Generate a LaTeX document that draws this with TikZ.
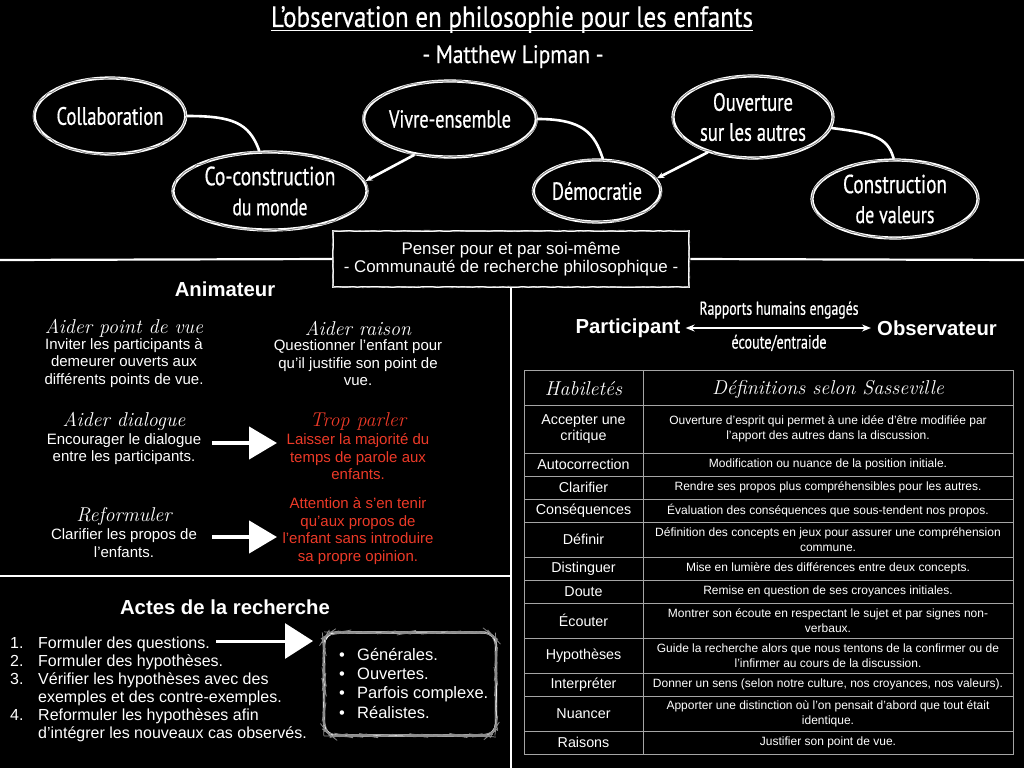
\documentclass[tikz,border=0pt]{standalone}
\usepackage{fontspec}
\usepackage{graphicx}
\setsansfont{Liberation Sans}
\renewcommand{\familydefault}{\sfdefault}
\newfontfamily\handfont[FakeStretch=0.74,FakeBold=0.6]{PT Sans}
\newfontfamily\titlefont[FakeStretch=0.85,FakeBold=0.5]{PT Sans}
\usetikzlibrary{shapes.geometric,arrows.meta,calc,decorations.pathmorphing}
\definecolor{myred}{RGB}{236,58,40}
\definecolor{tgray}{RGB}{165,165,165}
\newcommand{\hwt}[2]{\resizebox{#1}{!}{\handfont #2}}
\newcommand{\twt}[2]{\resizebox{#1}{!}{\titlefont #2}}
\begin{document}
\begin{tikzpicture}[x=1pt,y=-1pt,
 bubble/.style={ellipse, draw=white, line width=3.2pt, text=white, inner sep=0pt, align=center,
   font=\fontsize{20}{30}\selectfont,
   postaction={draw=white!55!black, line width=0.9pt, decorate, decoration={random steps, segment length=5pt, amplitude=0.9pt}}},
 conn/.style={white, line width=2.6pt, line cap=round},
 connarrow/.style={conn, -{Stealth[length=7pt,width=6pt]}},
 body/.style={text=white, inner sep=0pt, align=center, font=\fontsize{15}{17.5}\selectfont},
 redbody/.style={body, text=myred},
 hhead/.style={text=white, inner sep=0pt, font=\rmfamily\itshape\fontsize{20}{22}\selectfont},
 redhead/.style={hhead, text=myred},
 bighead/.style={text=white, inner sep=0pt, font=\bfseries\fontsize{20.3}{22}\selectfont},
 sepline/.style={white, line width=2.2pt},
 chalkarrow/.style={white, line width=4.5pt, -{Triangle[length=28pt,width=32pt]}},
 bigarrow/.style={white, line width=3pt, -{Triangle[length=28pt,width=35pt]}},
 listtext/.style={text=white, inner sep=0pt, anchor=base west, font=\fontsize{16}{18}\selectfont},
 bullettext/.style={text=white, inner sep=0pt, anchor=base west, font=\fontsize{16.5}{18}\selectfont},
 tgrid/.style={draw=tgray, line width=1pt},
 tleft/.style={text=white, inner sep=0pt, align=center, font=\fontsize{14.3}{16}\selectfont},
 tright/.style={text=white, inner sep=0pt, align=center, font=\fontsize{12}{15}\selectfont},
 handlabel/.style={text=white, inner sep=0pt}
]
\useasboundingbox (0,0) rectangle (1024,768);
\fill[black] (0,0) rectangle (1024,768);

% Title
\node[handlabel, anchor=base] (title) at (512,27) {\twt{482pt}{L’observation en philosophie pour les enfants}};
\draw[white, line width=1pt] ([yshift=-3.5pt]title.base west) -- ([yshift=-3.5pt]title.base east);
\node[handlabel, anchor=base] (sub) at (513,63) {\twt{181pt}{- Matthew Lipman -}};

% Bubbles
\node[bubble, minimum width=136pt, minimum height=76pt] (collab) at (110,116) {\hwt{107pt}{Collaboration}};
\node[bubble, minimum width=194pt, minimum height=78pt] (cocon) at (270,191) {\hwt{131pt}{Co-construction}\\\hwt{75pt}{du monde}};
\node[bubble, minimum width=156pt, minimum height=76pt] (vivre) at (450,119) {\hwt{122pt}{Vivre-ensemble}};
\node[bubble, minimum width=124pt, minimum height=62pt] (democ) at (597,191) {\hwt{90pt}{Démocratie}};
\node[bubble, minimum width=160pt, minimum height=82pt] (ouvert) at (753,117) {\hwt{80pt}{Ouverture}\\\hwt{106pt}{sur les autres}};
\node[bubble, minimum width=166pt, minimum height=78pt] (constr) at (895,199) {\hwt{104pt}{Construction}\\\hwt{79pt}{de valeurs}};

% Connectors between bubbles
\draw[conn] (collab.east) .. controls +(45,0) and +(-10,-28) .. (cocon.105);
\draw[connarrow] (vivre.225) -- (cocon.6);
\draw[conn] (vivre.east) .. controls +(45,0) and +(-8,-25) .. (democ.80);
\draw[connarrow] (ouvert.218) -- (democ.12);
\draw[conn] (ouvert.-8) .. controls +(40,5) and +(-6,-22) .. (constr.92);

% Central box
\node[draw=white, line width=2.5pt, minimum width=356pt, minimum height=56pt, inner sep=0pt, text=white, align=center,
  font=\fontsize{16.9}{18.5}\selectfont,
  postaction={draw=white!55!black, line width=0.8pt, decorate, decoration={random steps, segment length=5pt, amplitude=0.8pt}}]
  (penser) at (511,259) {Penser pour et par soi-même\\- Communauté de recherche philosophique -};

% Separators
\coordinate (sl) at (0,260);
\coordinate (sr) at (1024,260);
\coordinate (sb) at (511,768);
\coordinate (hl) at (0,576);
\coordinate (hr) at (511,576);
\draw[sepline] (sl) -- (penser.west);
\draw[sepline] (penser.east) -- (sr);
\draw[sepline] (penser.south) -- (sb);
\draw[sepline] (hl) -- (hr);

% Animateur
\node[bighead] (anim) at (225,289) {Animateur};
\node[hhead] (ptvh) at (124,328) {Aider point de vue};
\node[body] (ptv) at (124,363) {Inviter les participants à\\demeurer ouverts aux\\différents points de vue.};
\node[hhead] (raih) at (358,328) {Aider raison};
\node[body] (rai) at (358,363) {Questionner l’enfant pour\\qu’il justifie son point de\\vue.};
\node[hhead] (diah) at (124,421) {Aider dialogue};
\node[body] (dia) at (124,449) {Encourager le dialogue\\entre les participants.};
\node[redhead] (troph) at (358,421) {Trop parler};
\node[redbody] (trop) at (358,457) {Laisser la majorité du\\temps de parole aux\\enfants.};
\node[hhead] (refh) at (124,516) {Reformuler};
\node[body] (ref) at (124,543) {Clarifier les propos de\\l’enfants.};
\node[redbody] (att) at (358,531) {Attention à s’en tenir\\qu’aux propos de\\l’enfant sans introduire\\sa propre opinion.};
\coordinate (a1s) at (212,443);
\coordinate (a1e) at (277,443);
\coordinate (a2s) at (212,537);
\coordinate (a2e) at (277,537);
\draw[chalkarrow] (a1s) -- (a1e);
\draw[chalkarrow] (a2s) -- (a2e);

% Actes de la recherche
\node[bighead] (actes) at (225,607) {Actes de la recherche};
\node[listtext] (n1) at (10,648) {1.};
\node[listtext] (l1) at (38,648) {Formuler des questions.};
\node[listtext] (n2) at (10,666) {2.};
\node[listtext] (l2) at (38,666) {Formuler des hypothèses.};
\node[listtext] (n3) at (10,684) {3.};
\node[listtext] (l3) at (38,684) {Vérifier les hypothèses avec des};
\node[listtext] (l3b) at (38,702) {exemples et des contre-exemples.};
\node[listtext] (n4) at (10,720) {4.};
\node[listtext] (l4) at (38,720) {Reformuler les hypothèses afin};
\node[listtext] (l4b) at (38,738) {d’intégrer les nouveaux cas observés.};

\node[draw=white, line width=2.2pt, rounded corners=12pt, minimum width=172pt, minimum height=103pt,
  postaction={draw=white!55!black, line width=0.7pt, decorate, decoration={random steps, segment length=5pt, amplitude=0.7pt}}]
  (qbox) at (410,684) {};
\node[bullettext] (b1) at (339,660) {•};
\node[bullettext] (g1) at (357,660) {Générales.};
\node[bullettext] (b2) at (339,679) {•};
\node[bullettext] (g2) at (357,679) {Ouvertes.};
\node[bullettext] (b3) at (339,698) {•};
\node[bullettext] (g3) at (357,698) {Parfois complexe.};
\node[bullettext] (b4) at (339,718) {•};
\node[bullettext] (g4) at (357,718) {Réalistes.};
\coordinate (a3s) at (216,641);
\coordinate (a3e) at (313,641);
\draw[bigarrow] (a3s) -- (a3e);

% Participant / Observateur
\node[bighead] (part) at (628,328) {Participant};
\node[bighead] (obs) at (937,328) {Observateur};
\draw[white, line width=1.5pt, {Stealth[length=9pt,width=7pt]}-{Stealth[length=9pt,width=7pt]}, shorten <=5pt, shorten >=6pt] (part.east) -- (obs.west);
\node[handlabel] (rap) at (779,310) {\hwt{159pt}{Rapports humains engagés}};
\node[handlabel] (eco) at (779,343) {\hwt{95pt}{écoute/entraide}};

% Table
\draw[tgrid] (524,370) rectangle (1013,754);
\draw[tgrid] (643,370) -- (643,754);
\foreach \yy in {405,453,476,499,522,557,580,603,638,673,696,731} \draw[tgrid] (524,\yy) -- (1013,\yy);
\node[hhead] (hab) at (583.5,389) {Habiletés};
\node[hhead] (def) at (828,389) {Définitions selon Sasseville};
\node[tleft] (r1a) at (583.5,429) {Accepter une\\critique};
\node[tright] (r1b) at (828,429) {Ouverture d’esprit qui permet à une idée d’être modifiée par\\l’apport des autres dans la discussion.};
\node[tleft] (r2a) at (583.5,464.5) {Autocorrection};
\node[tright] (r2b) at (828,464.5) {Modification ou nuance de la position initiale.};
\node[tleft] (r3a) at (583.5,487.5) {Clarifier};
\node[tright] (r3b) at (828,487.5) {Rendre ses propos plus compréhensibles pour les autres.};
\node[tleft] (r4a) at (583.5,510.5) {Conséquences};
\node[tright] (r4b) at (828,510.5) {Évaluation des conséquences que sous-tendent nos propos.};
\node[tleft] (r5a) at (583.5,539.5) {Définir};
\node[tright] (r5b) at (828,539.5) {Définition des concepts en jeux pour assurer une compréhension\\commune.};
\node[tleft] (r6a) at (583.5,568.5) {Distinguer};
\node[tright] (r6b) at (828,568.5) {Mise en lumière des différences entre deux concepts.};
\node[tleft] (r7a) at (583.5,591.5) {Doute};
\node[tright] (r7b) at (828,591.5) {Remise en question de ses croyances initiales.};
\node[tleft] (r8a) at (583.5,620.5) {Écouter};
\node[tright] (r8b) at (828,620.5) {Montrer son écoute en respectant le sujet et par signes non-\\verbaux.};
\node[tleft] (r9a) at (583.5,655.5) {Hypothèses};
\node[tright] (r9b) at (828,655.5) {Guide la recherche alors que nous tentons de la confirmer ou de\\l’infirmer au cours de la discussion.};
\node[tleft] (r10a) at (583.5,684.5) {Interpréter};
\node[tright] (r10b) at (828,684.5) {Donner un sens (selon notre culture, nos croyances, nos valeurs).};
\node[tleft] (r11a) at (583.5,713.5) {Nuancer};
\node[tright] (r11b) at (828,713.5) {Apporter une distinction où l’on pensait d’abord que tout était\\identique.};
\node[tleft] (r12a) at (583.5,742.5) {Raisons};
\node[tright] (r12b) at (828,742.5) {Justifier son point de vue.};
\end{tikzpicture}
\end{document}
